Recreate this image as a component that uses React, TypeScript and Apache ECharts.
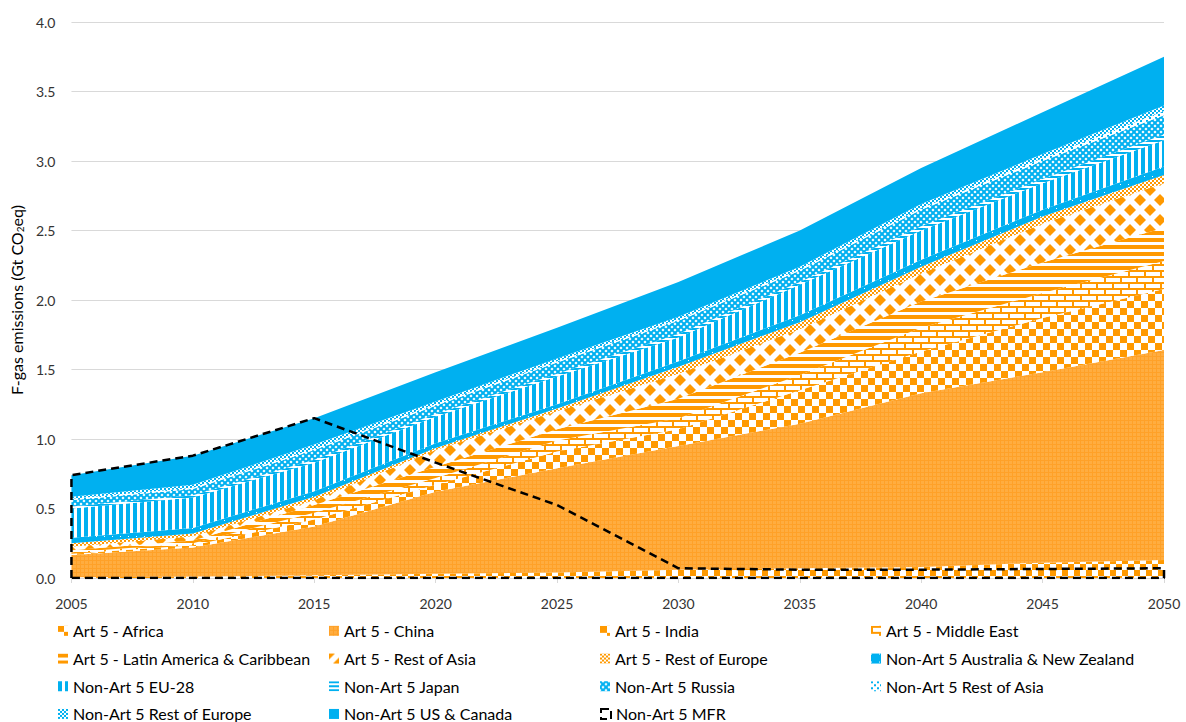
import React, { useEffect, useRef } from 'react';
import * as echarts from 'echarts';

const years = ['2005', '2010', '2015', '2020', '2025', '2030', '2035', '2040', '2045', '2050'];

const art5Africa = [0.005, 0.01, 0.02, 0.03, 0.04, 0.06, 0.07, 0.08, 0.11, 0.13];
const art5China = [0.16, 0.21, 0.35, 0.59, 0.75, 0.89, 1.04, 1.25, 1.37, 1.51];
const art5India = [0.01, 0.015, 0.05, 0.05, 0.12, 0.12, 0.24, 0.30, 0.39, 0.44];
const art5MiddleEast = [0.01, 0.015, 0.05, 0.05, 0.08, 0.08, 0.11, 0.17, 0.18, 0.20];
const art5LatinAmerica = [0.015, 0.02, 0.055, 0.08, 0.08, 0.14, 0.16, 0.19, 0.22, 0.24];
const art5RestOfAsia = [0.025, 0.03, 0.035, 0.12, 0.13, 0.18, 0.17, 0.20, 0.28, 0.32];
const art5RestOfEurope = [0.025, 0.02, 0.025, 0.015, 0.02, 0.05, 0.05, 0.05, 0.05, 0.06];
const nonArt5Australia = [0.04, 0.04, 0.04, 0.035, 0.03, 0.04, 0.05, 0.05, 0.05, 0.06];
const nonArt5EU28 = [0.21, 0.22, 0.205, 0.19, 0.20, 0.17, 0.22, 0.21, 0.19, 0.19];
const nonArt5Japan = [0.015, 0.015, 0.02, 0.02, 0.02, 0.025, 0.02, 0.03, 0.03, 0.04];
const nonArt5RestOfAsia = [0.01, 0.01, 0.01, 0.01, 0.01, 0.01, 0.01, 0.01, 0.02, 0.03];
const nonArt5Russia = [0.045, 0.045, 0.07, 0.06, 0.08, 0.095, 0.08, 0.12, 0.13, 0.14];
const nonArt5RestOfEurope = [0.015, 0.02, 0.03, 0.02, 0.02, 0.02, 0.02, 0.03, 0.03, 0.04];
const nonArt5USCanada = [0.155, 0.21, 0.19, 0.21, 0.22, 0.25, 0.26, 0.26, 0.30, 0.35];
const nonArt5MFR = [0.74, 0.88, 1.15, 0.83, 0.525, 0.07, 0.06, 0.06, 0.065, 0.07];

const yTicks = { min: 0, max: 4, interval: 0.5 };

const O = '#FF9900';
const B = '#00B0F0';

function pat(w: number, h: number, body: string, bg = '#ffffff') {
  const svg = `<svg xmlns="http://www.w3.org/2000/svg" width="${w}" height="${h}" shape-rendering="crispEdges"><rect width="${w}" height="${h}" fill="${bg}"/>${body}</svg>`;
  return {
    image: 'data:image/svg+xml;charset=utf-8,' + encodeURIComponent(svg),
    repeat: 'repeat',
    imageWidth: w,
    imageHeight: h,
  };
}

function diamond(cx: number, cy: number, r: number) {
  return `<polygon points="${cx},${cy - r} ${cx + r},${cy} ${cx},${cy + r} ${cx - r},${cy}"/>`;
}

const patterns: Record<string, any> = {
  africa: pat(12, 12, `<rect width="6" height="6" fill="${O}"/><rect x="6" y="6" width="6" height="6" fill="${O}"/>`),
  china: pat(4, 4, `<rect width="4" height="1" fill="#FFA128"/><rect width="1" height="4" fill="#FFA128"/>`, '#FFAD40'),
  india: pat(14, 14, `<rect width="7" height="7" fill="${O}"/><rect x="7" y="7" width="7" height="7" fill="${O}"/>`),
  middleEast: pat(16, 12, `<rect x="2" y="2" width="14" height="4" fill="#fff"/><rect x="0" y="8" width="8" height="4" fill="#fff"/><rect x="10" y="8" width="6" height="4" fill="#fff"/>`, O),
  latin: pat(6, 7, `<rect width="6" height="4" fill="${O}"/>`),
  restAsia5: pat(20, 20, `<g fill="${O}" shape-rendering="geometricPrecision">${diamond(10, 10, 6)}${diamond(0, 0, 6)}${diamond(20, 0, 6)}${diamond(0, 20, 6)}${diamond(20, 20, 6)}</g>`),
  restEurope5: pat(4, 4, `<rect width="2" height="2" fill="${O}"/><rect x="2" y="2" width="2" height="2" fill="${O}"/>`),
  australia: pat(8, 8, `<rect width="1" height="1" fill="#fff"/>`, B),
  eu28: pat(7, 7, `<rect width="4" height="7" fill="${B}"/>`),
  japan: pat(4, 4, `<rect width="4" height="2" fill="${B}"/>`),
  restAsiaN: pat(6, 6, `<rect width="2" height="2" fill="${B}"/><rect x="3" y="3" width="2" height="2" fill="${B}"/>`),
  russia: pat(6, 6, `<path d="M-1 -1L7 7M7 -1L-1 7" stroke="${B}" stroke-width="2" shape-rendering="geometricPrecision"/>`),
  restEuropeN: pat(4, 4, `<rect width="2" height="2" fill="${B}"/><rect x="2" y="2" width="2" height="2" fill="${B}"/>`),
  us: B,
};

const stackSeries = [
  { name: 'Art 5 - Africa', values: art5Africa, key: 'africa' },
  { name: 'Art 5 - China', values: art5China, key: 'china' },
  { name: 'Art 5 - India', values: art5India, key: 'india' },
  { name: 'Art 5 - Middle East', values: art5MiddleEast, key: 'middleEast' },
  { name: 'Art 5 - Latin America & Caribbean', values: art5LatinAmerica, key: 'latin' },
  { name: 'Art 5 - Rest of Asia', values: art5RestOfAsia, key: 'restAsia5' },
  { name: 'Art 5 - Rest of Europe', values: art5RestOfEurope, key: 'restEurope5' },
  { name: 'Non-Art 5 Australia & New Zealand', values: nonArt5Australia, key: 'australia' },
  { name: 'Non-Art 5 EU-28', values: nonArt5EU28, key: 'eu28' },
  { name: 'Non-Art 5 Japan', values: nonArt5Japan, key: 'japan' },
  { name: 'Non-Art 5 Russia', values: nonArt5Russia, key: 'russia' },
  { name: 'Non-Art 5 Rest of Asia', values: nonArt5RestOfAsia, key: 'restAsiaN' },
  { name: 'Non-Art 5 Rest of Europe', values: nonArt5RestOfEurope, key: 'restEuropeN' },
  { name: 'Non-Art 5 US & Canada', values: nonArt5USCanada, key: 'us' },
];
const mfrName = 'Non-Art 5 MFR';

// legend order, row by row (4 columns)
const legendOrder = [
  'Art 5 - Africa', 'Art 5 - China', 'Art 5 - India', 'Art 5 - Middle East',
  'Art 5 - Latin America & Caribbean', 'Art 5 - Rest of Asia', 'Art 5 - Rest of Europe', 'Non-Art 5 Australia & New Zealand',
  'Non-Art 5 EU-28', 'Non-Art 5 Japan', 'Non-Art 5 Russia', 'Non-Art 5 Rest of Asia',
  'Non-Art 5 Rest of Europe', 'Non-Art 5 US & Canada', mfrName,
];

export default function App() {
  const ref = useRef<HTMLDivElement>(null);
  useEffect(() => {
    if (!ref.current) return;
    const chart = echarts.init(ref.current, undefined, { renderer: 'svg' });
    const keyOf: Record<string, string> = {};
    stackSeries.forEach((s) => (keyOf[s.name] = s.key));

    const last = years.length - 1;
    const mfrOutline: any[] = [[years[0], 0]];
    years.forEach((y, i) => mfrOutline.push([y, nonArt5MFR[i]]));
    mfrOutline.push([years[last], 0]);
    mfrOutline.push([years[0], 0]);

    const series: any[] = stackSeries.map((s) => ({
      name: s.name,
      type: 'line',
      stack: 'total',
      data: s.values,
      showSymbol: false,
      symbol: 'none',
      lineStyle: { width: 0 },
      itemStyle: { color: patterns[s.key] },
      areaStyle: { color: patterns[s.key], opacity: 1 },
      emphasis: { disabled: true },
      z: 2,
    }));
    series.push({
      name: mfrName,
      type: 'line',
      data: mfrOutline,
      showSymbol: false,
      symbol: 'none',
      itemStyle: { color: '#000' },
      lineStyle: { color: '#000', width: 2.5, type: [8, 5] },
      emphasis: { disabled: true },
      z: 5,
    });

    chart.setOption({
      animation: false,
      textStyle: { fontFamily: 'Lato' },
      grid: { left: 70, right: 22, top: 22, bottom: 144, containLabel: false },
      legend: {
        orient: 'horizontal',
        left: 58,
        top: 617,
        width: 1110,
        padding: 0,
        itemWidth: 10,
        itemHeight: 10,
        itemGap: 0,
        selectedMode: false,
        textStyle: { fontSize: 16, color: '#000', fontFamily: 'Lato', lineHeight: 27.7, width: 256, overflow: 'none' },
        data: legendOrder.map((name) =>
          name === mfrName
            ? {
                name,
                icon: 'rect',
                itemStyle: { color: 'rgba(255,255,255,0)', borderColor: '#000', borderWidth: 2, borderType: 'dashed' },
              }
            : { name, icon: 'rect', itemStyle: { color: patterns[keyOf[name]], borderWidth: 0 } }
        ),
      },
      xAxis: {
        type: 'category',
        data: years,
        boundaryGap: false,
        axisLine: { lineStyle: { color: '#D9D9D9', width: 1 } },
        axisTick: { show: true, length: 5, lineStyle: { color: '#D9D9D9' } },
        splitLine: { show: false },
        axisLabel: { margin: 18, fontSize: 14, color: '#333', interval: 0 },
      },
      yAxis: {
        type: 'value',
        min: yTicks.min,
        max: yTicks.max,
        interval: yTicks.interval,
        name: '{t|F-gas emissions (Gt CO}{sub|2}{t|eq)}',
        nameLocation: 'middle',
        nameRotate: 90,
        nameGap: 45,
        nameTextStyle: {
          fontSize: 16,
          color: '#000',
          fontFamily: 'Lato',
          rich: {
            t: { fontSize: 16, color: '#000', fontFamily: 'Lato' },
            sub: { fontSize: 10, color: '#000', fontFamily: 'Lato', verticalAlign: 'bottom', padding: [8, 0, 0, 0] },
          },
        },
        axisLine: { show: false },
        axisTick: { show: false },
        splitLine: { lineStyle: { color: '#D9D9D9', width: 1 } },
        axisLabel: { margin: 16, fontSize: 14, color: '#333', formatter: (v: number) => v.toFixed(1) },
      },
      series,
    });
    return () => chart.dispose();
  }, []);
  return <div ref={ref} style={{ position: 'absolute', left: 0, top: 0, width: 1186, height: 722 }} />;
}
